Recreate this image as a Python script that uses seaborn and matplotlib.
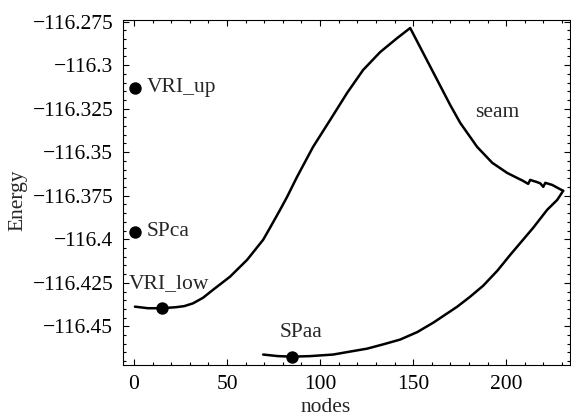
import numpy as np
import pandas as pd
import matplotlib
matplotlib.use("Agg")
import matplotlib.pyplot as plt
from matplotlib.ticker import FixedLocator, MultipleLocator
import seaborn as sns

# ---- data ----
# upper path: from VRI_low up over the peak and down along the seam
upper_x = [0.5, 7.5, 15.1, 22.6, 27.0, 31.7, 37.1, 42.5, 51.6, 60.8, 69.4, 73.1,
           78.5, 82.3, 87.6, 96.2, 105.4, 114.5, 123.1, 132.3, 141.4, 148.4,
           155.4, 162.9, 169.9, 175.3, 184.4, 192.5, 200.5, 204.8, 209.1, 211.8,
           212.9, 214.5, 216.1, 218.3, 219.9, 221.0, 224.7, 230.6]
upper_y = [-116.4387, -116.4396, -116.4396, -116.4390, -116.4384, -116.4368,
           -116.4336, -116.4290, -116.4215, -116.4118, -116.4003, -116.3934,
           -116.3831, -116.3756, -116.3642, -116.3470, -116.3315, -116.3160,
           -116.3028, -116.2925, -116.2845, -116.2787,
           -116.2931, -116.3085, -116.3229, -116.3332, -116.3470, -116.3561,
           -116.3619, -116.3642, -116.3665, -116.3682, -116.3659, -116.3665,
           -116.3670, -116.3679, -116.3699, -116.3676, -116.3688, -116.3722]

# lower path: from SPaa up to the seam end
lower_x = [69.4, 77.4, 84.9, 94.6, 107.0, 116.1, 125.3, 134.4, 143.0, 152.2,
           160.8, 173.7, 180.6, 187.6, 195.2, 202.2, 214.5, 222.0, 227.4, 230.6]
lower_y = [-116.4662, -116.4671, -116.4674, -116.4671, -116.4662, -116.4645,
           -116.4628, -116.4602, -116.4576, -116.4533, -116.4479, -116.4387,
           -116.4330, -116.4267, -116.4181, -116.4089, -116.3934, -116.3831,
           -116.3774, -116.3722]

# labelled stationary points
point_names = ["VRI_up", "SPca", "VRI_low", "SPaa"]
point_x = [0.5, 0.5, 15.1, 84.9]
point_y = [-116.3131, -116.3957, -116.4396, -116.4674]

x_ticks = [0, 50, 100, 150, 200]
x_tick_labels = ["0", "50", "100", "150", "200"]
y_ticks = [-116.275, -116.3, -116.325, -116.35, -116.375, -116.4, -116.425, -116.45]
y_tick_labels = ["\u2212116.275", "\u2212116.3", "\u2212116.325", "\u2212116.35",
                 "\u2212116.375", "\u2212116.4", "\u2212116.425", "\u2212116.45"]

# ---- styling ----
sns.set_theme(style="ticks")
plt.rcParams["font.family"] = ["Liberation Serif", "DejaVu Serif"]
FS = 15.5

fig = plt.figure(figsize=(5.71, 4.19), dpi=100)
ax = fig.add_axes([123 / 571, 1 - 365 / 419, (569.5 - 123) / 571, (365 - 20) / 419])

upper = pd.DataFrame({"nodes": upper_x, "Energy": upper_y})
lower = pd.DataFrame({"nodes": lower_x, "Energy": lower_y})
pts = pd.DataFrame({"name": point_names, "nodes": point_x, "Energy": point_y})

sns.lineplot(data=upper, x="nodes", y="Energy", sort=False, estimator=None,
             color="black", linewidth=1.8, ax=ax)
sns.lineplot(data=lower, x="nodes", y="Energy", sort=False, estimator=None,
             color="black", linewidth=1.8, ax=ax)
sns.scatterplot(data=pts, x="nodes", y="Energy", color="black", s=80,
                edgecolor="black", linewidth=0, ax=ax, zorder=5)

# annotations
ax.text(7.0, -116.3131, "VRI_up", fontsize=FS, ha="left", va="center")
ax.text(7.0, -116.3957, "SPca", fontsize=FS, ha="left", va="center")
ax.text(-2.9, -116.4255, "VRI_low", fontsize=FS, ha="left", va="center")
ax.text(89.8, -116.4536, "SPaa", fontsize=FS, ha="center", va="center")
ax.text(195.2, -116.3275, "seam", fontsize=FS, ha="center", va="center")

ax.set_xlim(-5.9, 234.0)
ax.set_ylim(-116.4722, -116.2741)

ax.xaxis.set_major_locator(FixedLocator(x_ticks))
ax.set_xticklabels(x_tick_labels)
ax.xaxis.set_minor_locator(MultipleLocator(10))
ax.yaxis.set_major_locator(FixedLocator(y_ticks))
ax.set_yticklabels(y_tick_labels)
ax.yaxis.set_minor_locator(MultipleLocator(0.005))

ax.tick_params(which="both", direction="in", top=True, right=True,
               labeltop=False, labelright=False, colors="black", width=0.8)
ax.tick_params(which="major", length=4.5, pad=7, labelsize=FS)
ax.tick_params(which="minor", length=2.5)

for s in ax.spines.values():
    s.set_visible(True)
    s.set_color("black")
    s.set_linewidth(0.8)

ax.set_xlabel("nodes", fontsize=FS)
ax.set_ylabel("Energy", fontsize=FS)
ax.xaxis.set_label_coords((326 - 123) / 446.5, (365 - 398) / 345)
ax.yaxis.set_label_coords((27 - 123) / 446.5, (365 - 200) / 345)

fig.savefig("out.png", dpi=100, facecolor="white")
